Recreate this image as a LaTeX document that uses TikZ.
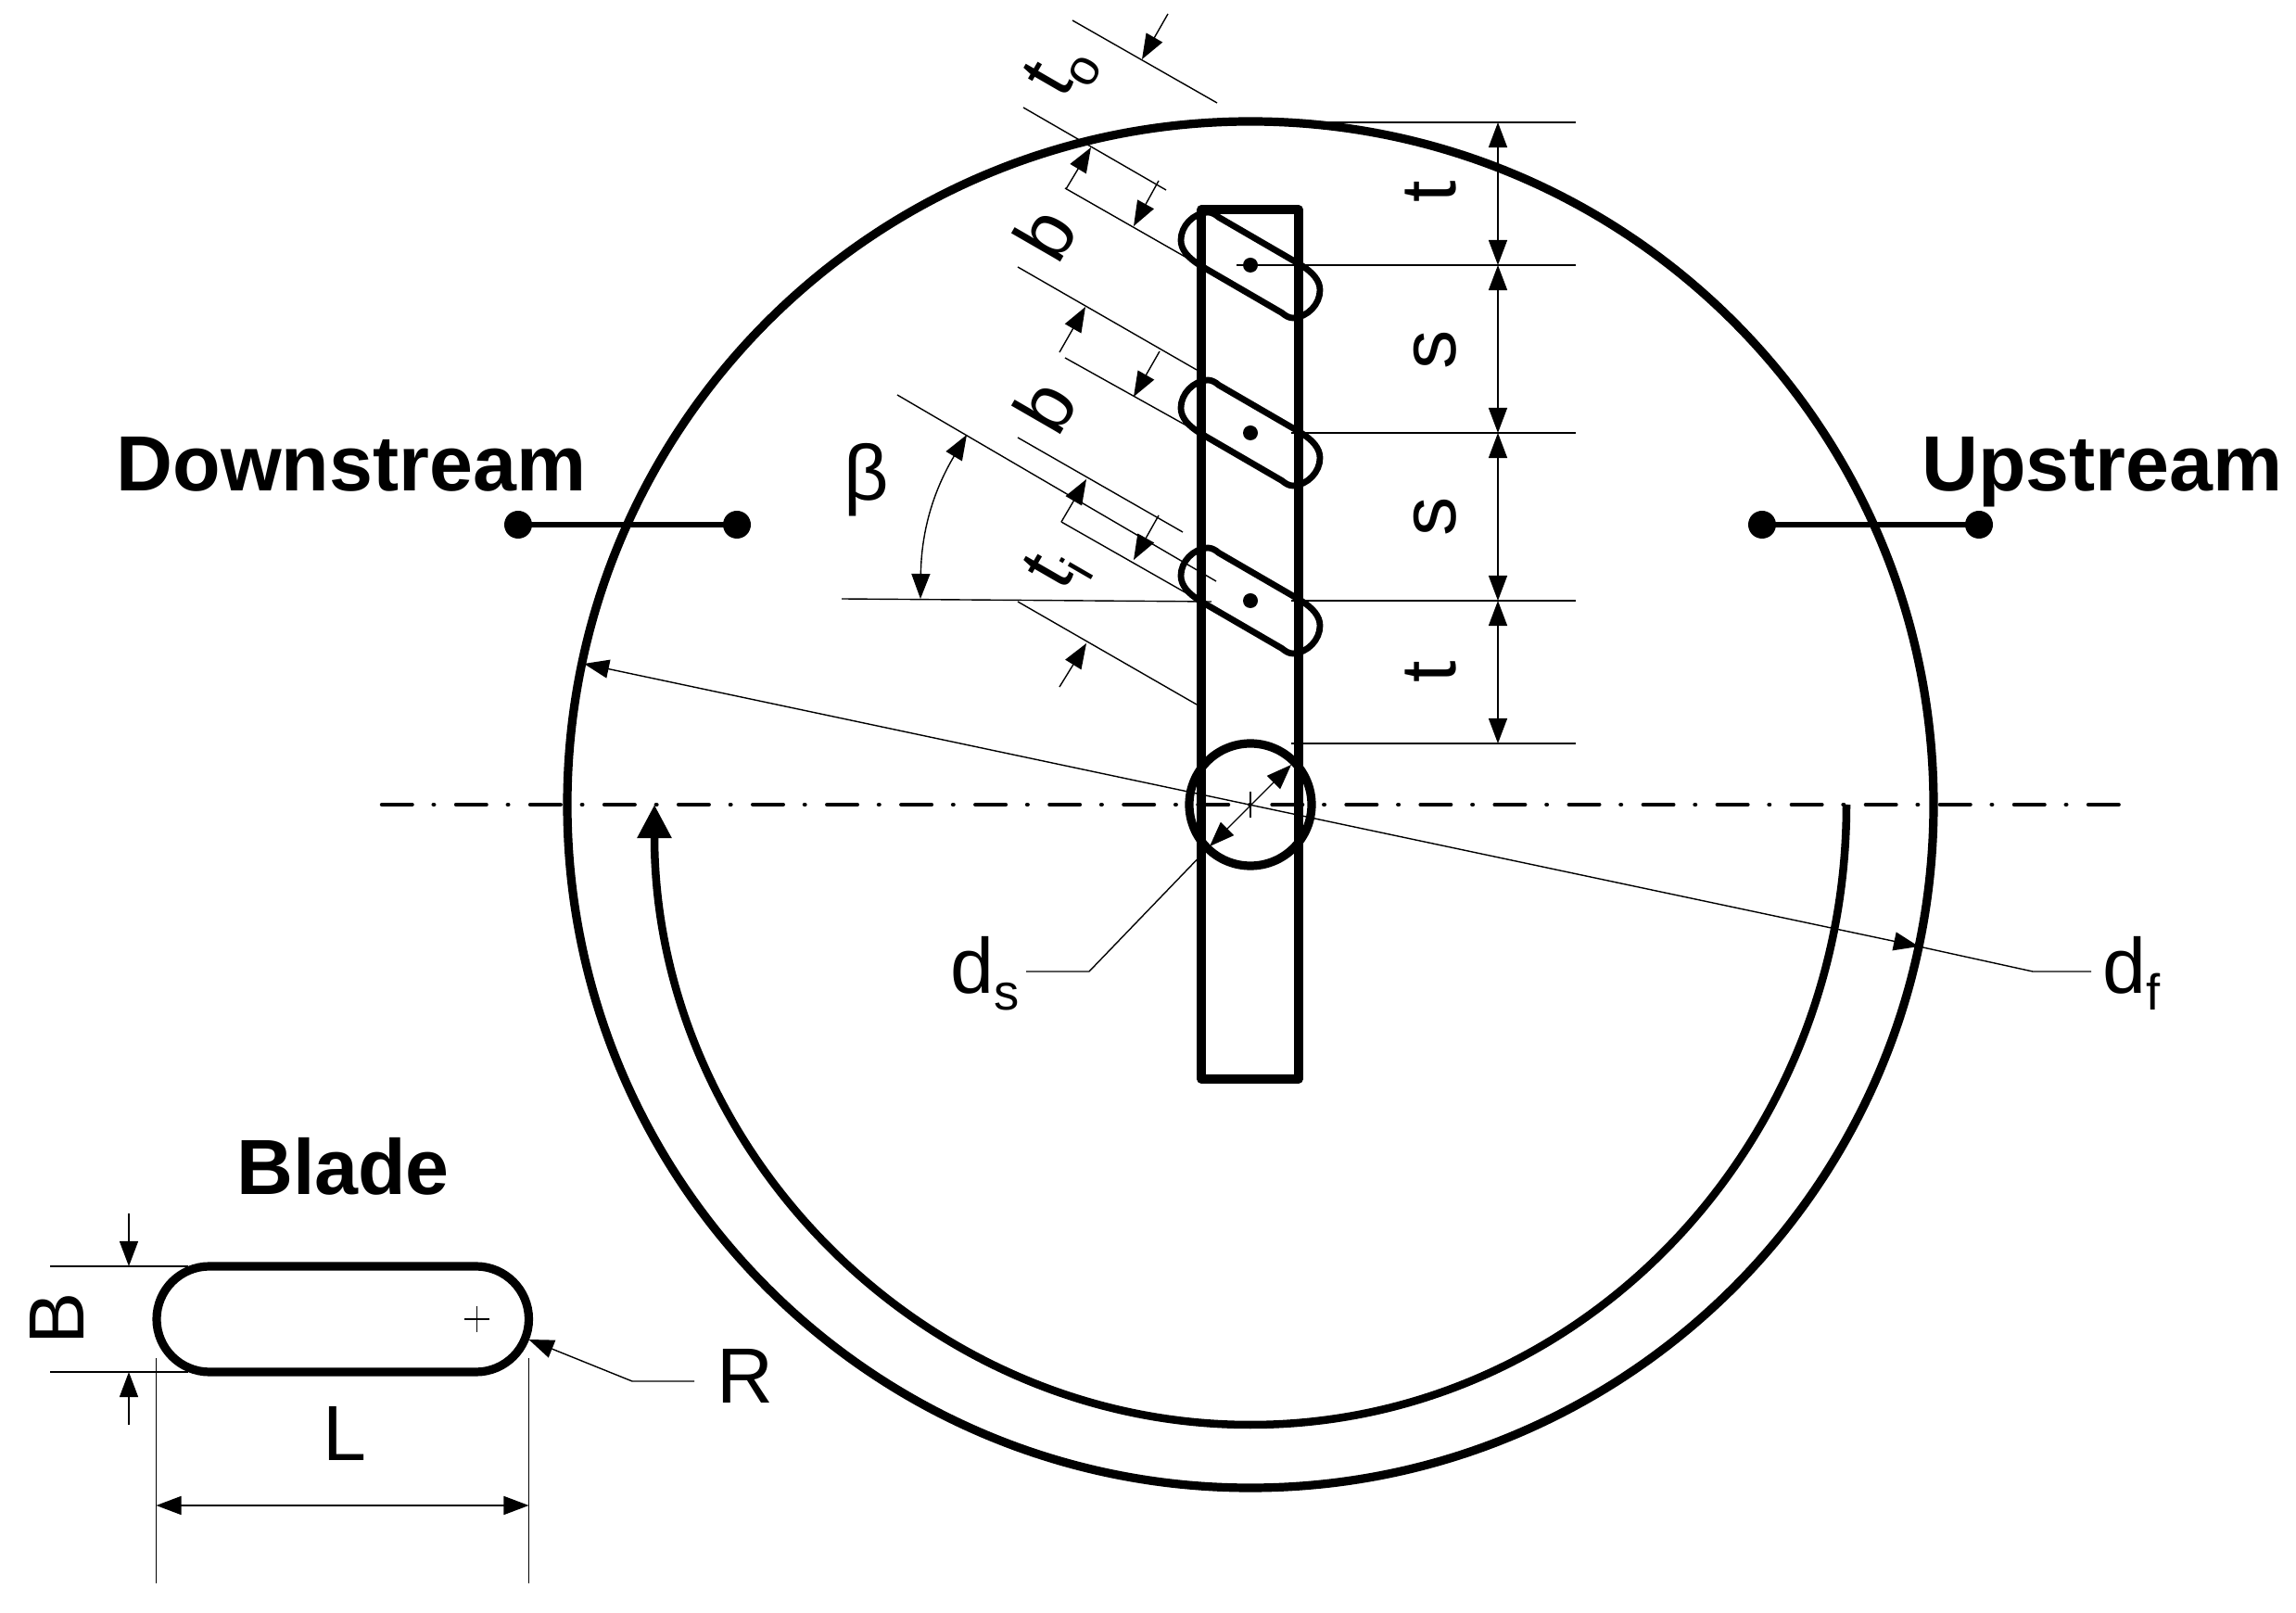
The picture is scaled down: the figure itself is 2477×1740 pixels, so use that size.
\documentclass[tikz,border=0pt]{standalone}
\usepackage{fontspec}
\setmainfont{Liberation Sans}
\usetikzlibrary{arrows.meta}
\newcommand{\lowtxt}[1]{\raisebox{-.22em}{\fontsize{15.5}{16}\selectfont #1}}
\tikzset{
    thinline/.style={line width=0.014cm},
    dimline/.style={thinline, {Triangle[length=0.27cm,width=0.2cm]}-{Triangle[length=0.27cm,width=0.2cm]}},
    dimend/.style={thinline, -{Triangle[length=0.27cm,width=0.2cm]}},
    outline/.style={line width=0.092cm, line join=round},
    dimtext/.style={font=\fontsize{24}{28}\selectfont, inner sep=0pt},
    headtext/.style={font=\fontsize{24}{28}\selectfont\bfseries, inner sep=0pt}
}
\begin{document}
\begin{tikzpicture}[x=0.01cm, y=-0.01cm]
    \useasboundingbox (0,0) rectangle (2477,1740);

    % Fan casing, hub and shaft
    \draw [outline] (1349,868) circle (737);
    \draw [outline] (1296,226) rectangle (1401,1164);
    \draw [outline] (1349,868) circle (66);
    \draw [thinline] (1349,854) -- (1349,882);

    % Blades
    \foreach \yb in {286,467,648} {
        \begin{scope}[shift={(1349,\yb)}]
            \draw [line width=0.068cm, line join=round] (53,-1) -- (-34,-51.5)
                .. controls (-38,-55) and (-42,-57) .. (-46,-57)
                .. controls (-62,-56) and (-75,-42) .. (-75,-27)
                .. controls (-75,-17) and (-68,-8) .. (-53,1)
                -- (34,51.5)
                .. controls (38,55) and (42,57) .. (46,57)
                .. controls (62,56) and (75,42) .. (75,27)
                .. controls (75,17) and (68,8) .. (53,-1);
            \fill (0,0) circle (8);
        \end{scope}
    }

    % Centre line
    \draw [line width=0.045cm, line cap=round, dash pattern=on 0.325cm off 0.232cm on 0.005cm off 0.238cm] (412,868) -- (2291,868);

    % Flow direction
    \draw [line width=0.085cm, -{Triangle[length=0.36cm,width=0.35cm]}] (1992,868) arc [start angle=0, end angle=180, x radius=643, y radius=669];

    % Upstream and downstream stations
    \draw [line width=0.065cm] (559,566) -- (795,566);
    \fill (559,566) circle (15);
    \fill (795,566) circle (15);
    \draw [line width=0.065cm] (1901,566) -- (2135,566);
    \fill (1901,566) circle (15);
    \fill (2135,566) circle (15);
    \node [headtext, anchor=base] (downstream) at (379,530) {Downstream};
    \node [headtext, anchor=base] (upstream) at (2268,530) {Upstream};

    % Spacing on the right
    \draw [thinline] (1370,132) -- (1700,132);
    \draw [thinline] (1334,286) -- (1700,286);
    \draw [thinline] (1393,467) -- (1700,467);
    \draw [thinline] (1393,648) -- (1700,648);
    \draw [thinline] (1393,802) -- (1700,802);
    \draw [dimline] (1616,132) -- (1616,286);
    \draw [dimline] (1616,286) -- (1616,467);
    \draw [dimline] (1616,467) -- (1616,648);
    \draw [dimline] (1616,648) -- (1616,802);
    \node [dimtext, rotate=90, anchor=base] (tTop) at (1570,207) {t};
    \node [dimtext, rotate=90, anchor=base] (sTop) at (1570,377) {s};
    \node [dimtext, rotate=90, anchor=base] (sLow) at (1570,557) {s};
    \node [dimtext, rotate=90, anchor=base] (tLow) at (1570,725) {t};

    % Oblique extension lines
    \draw [thinline] (1157,22) -- (1313,111);
    \draw [thinline] (1104,116) -- (1258,205);
    \draw [thinline] (1149,203) -- (1296,287);
    \draw [thinline] (1098,288) -- (1291,399);
    \draw [thinline] (1149,386) -- (1296,468);
    \draw [thinline] (968,426) -- (1312,627);
    \draw [thinline] (1098,472) -- (1276,574);
    \draw [thinline] (1145,563) -- (1296,649);
    \draw [thinline] (1098,649) -- (1291,760);

    % Oblique dimensions
    \draw [dimend] (1260,15) -- (1232,64);
    \draw [dimend] (1150,204) -- (1177,159);
    \draw [dimend] (1250,195) -- (1223,244);
    \draw [dimend] (1143,380) -- (1171,331);
    \draw [dimend] (1251,379) -- (1223,428);
    \draw [dimend] (1145,563) -- (1172,517);
    \draw [dimend] (1250,556) -- (1223,604);
    \draw [dimend] (1143,741) -- (1172,694);
    \node [dimtext, rotate=60] (tOuter) at (1146,76) {t\lowtxt{o}};
    \node [dimtext, rotate=60] (bTop) at (1127,252) {b};
    \node [dimtext, rotate=60] (bLow) at (1127,438) {b};
    \node [dimtext, rotate=60] (tInner) at (1141,615) {t\lowtxt{i}};

    % Stagger angle
    \draw [thinline] (908,646) -- (1307,649);
    \draw [dimline] (993,646) to [bend left=15] (1043,469);
    \node [dimtext] (beta) at (935,518) {β};

    % Fan and shaft diameters
    \draw [dimline] (630,716) -- (2070,1021);
    \draw [thinline] (2070,1021) -- (2193,1048) -- (2256,1048);
    \node [dimtext, anchor=west] (df) at (2268,1050) {d\lowtxt{f}};
    \draw [dimline] (1393,825) -- (1305,913);
    \draw [thinline] (1305,913) -- (1175,1048) -- (1107,1048);
    \node [dimtext, anchor=east] (ds) at (1100,1050) {d\lowtxt{s}};

    % Blade profile
    \node [headtext] (blade) at (370,1258) {Blade};
    \draw [outline, rounded corners=0.57cm] (169,1366) rectangle (570.5,1480);
    \draw [thinline] (514.5,1409) -- (514.5,1437);
    \draw [thinline] (501,1423) -- (528,1423);
    \draw [thinline] (54,1366) -- (203,1366);
    \draw [thinline] (54,1480) -- (203,1480);
    \draw [dimend] (139,1309) -- (139,1366);
    \draw [dimend] (139,1537) -- (139,1480);
    \draw [thinline] (168.5,1465) -- (168.5,1708);
    \draw [thinline] (570.5,1465) -- (570.5,1708);
    \draw [dimline] (168.5,1624) -- (570.5,1624);
    \draw [thinline, {Triangle[length=0.27cm,width=0.2cm]}-] (570.5,1445) -- (682,1490) -- (749,1490);
    \node [dimtext, rotate=90] (bThick) at (61,1422) {B};
    \node [dimtext] (bLength) at (372,1546) {L};
    \node [dimtext] (bRadius) at (804,1484) {R};
\end{tikzpicture}
\end{document}
